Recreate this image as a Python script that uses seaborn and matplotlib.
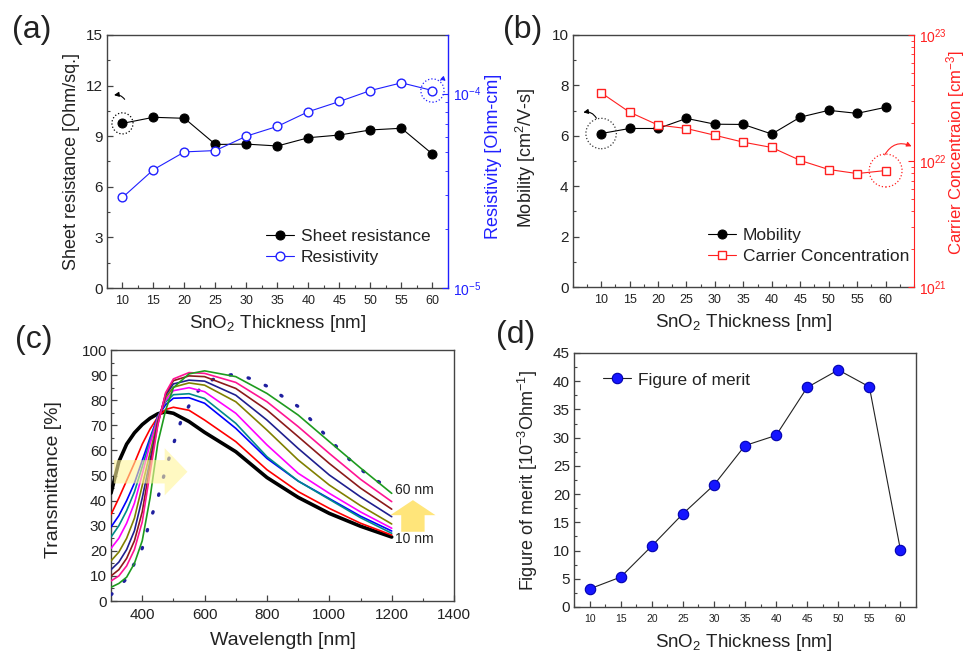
import numpy as np
import pandas as pd
import matplotlib
matplotlib.use("Agg")
import matplotlib.pyplot as plt
import seaborn as sns
from matplotlib.patches import FancyArrow
from matplotlib.ticker import MultipleLocator, LogLocator, NullFormatter

# ---------------- data ----------------
thickness = [10, 15, 20, 25, 30, 35, 40, 45, 50, 55, 60]
sheet_res = [9.76, 10.12, 10.06, 8.51, 8.53, 8.42, 8.91, 9.07, 9.37, 9.47, 7.94]
resistivity = [2.92e-5, 4.06e-5, 5.01e-5, 5.09e-5, 6.04e-5, 6.78e-5, 8.07e-5,
               9.10e-5, 1.036e-4, 1.135e-4, 1.036e-4]
mobility = [6.09, 6.29, 6.29, 6.69, 6.46, 6.45, 6.07, 6.74, 7.01, 6.89, 7.13]
carrier = [3.48e22, 2.44e22, 1.93e22, 1.81e22, 1.60e22, 1.41e22, 1.28e22,
           1.01e22, 8.56e21, 7.95e21, 8.40e21]
fom = [3.2, 5.3, 10.8, 16.5, 21.6, 28.6, 30.4, 38.9, 42.0, 39.0, 10.1]

wavelength = [300, 325, 350, 375, 400, 425, 450, 475, 500, 550, 600, 700, 800, 900, 1000, 1100, 1200]
T_black = [43.0, 55.5, 62.5, 67.0, 70.3, 72.8, 74.6, 75.4, 74.8, 71.5, 67.2, 59.5, 49.2, 41.3, 34.9, 29.8, 25.5]
T_red = [34.5, 41.0, 48.0, 55.0, 62.5, 68.5, 73.3, 76.3, 77.2, 76.0, 72.1, 63.5, 52.3, 43.6, 36.9, 31.0, 26.3]
T_blue = [29.5, 34.0, 40.0, 47.0, 56.0, 65.0, 73.5, 78.2, 80.8, 81.0, 78.8, 68.8, 56.8, 47.8, 40.8, 33.8, 27.9]
T_teal = [25.5, 30.0, 36.0, 43.5, 53.5, 64.0, 73.5, 79.3, 82.2, 82.6, 80.7, 70.8, 57.5, 47.8, 40.5, 33.2, 27.0]
T_magenta = [21.0, 25.0, 31.0, 39.0, 50.5, 62.5, 73.0, 80.0, 83.8, 85.0, 83.4, 74.8, 62.2, 50.9, 42.9, 35.5, 29.0]
T_olive = [16.0, 19.5, 25.0, 33.0, 46.0, 59.0, 72.0, 81.0, 85.2, 86.9, 86.0, 79.4, 68.1, 56.2, 46.2, 38.0, 30.7]
T_navy = [12.5, 15.5, 20.5, 28.0, 41.0, 56.0, 71.0, 82.0, 86.5, 88.0, 87.6, 82.0, 72.1, 60.8, 50.2, 41.5, 33.6]
T_brown = [10.0, 12.5, 17.0, 24.0, 35.5, 54.0, 70.5, 82.5, 87.8, 89.7, 89.4, 84.7, 76.1, 65.5, 54.8, 45.0, 36.6]
T_pink = [8.0, 10.0, 14.0, 20.5, 31.5, 51.0, 70.0, 83.0, 88.5, 91.0, 90.7, 87.1, 79.4, 69.5, 58.8, 48.5, 39.6]
T_green = [5.5, 7.0, 9.5, 15.0, 24.0, 41.0, 63.0, 76.0, 85.0, 90.5, 91.7, 89.4, 82.7, 74.1, 63.5, 53.0, 42.9]

wavelength_dot = [300, 325, 350, 375, 400, 425, 450, 475, 500, 525, 550, 575, 600, 650, 700,
                  750, 800, 850, 900, 950, 1000, 1050, 1100, 1150, 1200]
T_dot = [2.5, 5.5, 9.0, 15.0, 21.0, 32.0, 41.0, 52.5, 62.5, 72.0, 77.8, 83.0, 86.8, 89.5, 90.4,
         88.5, 85.6, 81.5, 77.5, 71.0, 64.5, 58.0, 52.5, 48.0, 45.0]

curve_list = [T_black, T_red, T_blue, T_teal, T_magenta, T_olive, T_navy, T_brown, T_pink, T_green]
curve_colors = ["#000000", "#FF0000", "#0000FF", "#008B8B", "#FF00FF", "#808000",
                "#1F1F8F", "#8B1A1A", "#FF1493", "#1E9B1E"]

# ---------------- style ----------------
sns.set_style("ticks")
plt.rcParams['font.family'] = ['Liberation Sans', 'DejaVu Sans']
plt.rcParams['mathtext.fontset'] = 'custom'
plt.rcParams['mathtext.rm'] = 'Liberation Sans'
plt.rcParams['mathtext.it'] = 'Liberation Sans:italic'
plt.rcParams['mathtext.bf'] = 'Liberation Sans:bold'
TXT = "#222222"
SP = "#444444"
BLUE = "#2020FF"
RED = "#FF2020"

fig = plt.figure(figsize=(9.69, 6.55), dpi=100)
ax_a = fig.add_axes([0.1104, 0.5603, 0.3519, 0.3863])
ax_b = fig.add_axes([0.5910, 0.5618, 0.3523, 0.3848])
ax_c = fig.add_axes([0.1146, 0.0824, 0.3540, 0.3832])
ax_d = fig.add_axes([0.5924, 0.0733, 0.3529, 0.3878])


def style_axes(ax, xfs, yfs):
    for s in ax.spines.values():
        s.set_color(SP)
        s.set_linewidth(1.0)
        s.set_visible(True)
    ax.tick_params(axis='both', which='both', direction='in', colors=SP,
                   top=False, right=False)
    ax.tick_params(axis='both', which='major', length=4.5, width=0.9)
    ax.tick_params(axis='both', which='minor', length=2.5, width=0.8)
    ax.tick_params(axis='x', labelsize=xfs, labelcolor=TXT, pad=5)
    ax.tick_params(axis='y', labelsize=yfs, labelcolor=TXT, pad=3)


xlab = "SnO$_2$ Thickness [nm]"

# ---------------- (a) ----------------
ax_a2 = ax_a.twinx()
ax_a2.set_yscale('log')
sns.lineplot(x=thickness, y=sheet_res, ax=ax_a, color='black', lw=0.8, marker='o',
             markersize=6.5, markerfacecolor='black', markeredgecolor='black',
             label='Sheet resistance')
sns.lineplot(x=thickness, y=resistivity, ax=ax_a2, color=BLUE, lw=0.8, marker='o',
             markersize=6.3, markerfacecolor='white', markeredgecolor=BLUE,
             markeredgewidth=1.0, label='Resistivity')
ax_a.set_xlim(7.5, 62.5)
ax_a.set_ylim(0, 15)
ax_a2.set_ylim(1e-5, 2e-4)
style_axes(ax_a, 9, 11)
ax_a.spines['right'].set_visible(False)
ax_a.xaxis.set_major_locator(MultipleLocator(5))
ax_a.xaxis.set_minor_locator(MultipleLocator(2.5))
ax_a.yaxis.set_major_locator(MultipleLocator(3))
ax_a.yaxis.set_minor_locator(MultipleLocator(1.5))
for k in ['left', 'top', 'bottom']:
    ax_a2.spines[k].set_visible(False)
ax_a2.spines['right'].set_color(BLUE)
ax_a2.spines['right'].set_linewidth(1.0)
ax_a2.tick_params(axis='y', which='both', direction='in', colors=BLUE, labelsize=10)
ax_a2.tick_params(axis='y', which='major', length=4.5)
ax_a2.tick_params(axis='y', which='minor', length=2.5)
ax_a2.yaxis.set_minor_locator(LogLocator(base=10, subs=np.arange(2, 10)))
ax_a2.yaxis.set_minor_formatter(NullFormatter())
ax_a.set_xlabel(xlab, fontsize=13.5, color=TXT)
ax_a.xaxis.set_label_coords(0.5, -0.10)
ax_a.set_ylabel("Sheet resistance [Ohm/sq.]", fontsize=13, color=TXT)
ax_a.yaxis.set_label_coords(-0.079, 0.498)
ax_a2.set_ylabel("Resistivity [Ohm-cm]", fontsize=13, color=BLUE, rotation=90)
ax_a2.yaxis.set_label_coords(1.108, 0.52)
if ax_a.get_legend():
    ax_a.get_legend().remove()
h1, l1 = ax_a.get_legend_handles_labels()
h2, l2 = ax_a2.get_legend_handles_labels()
ax_a2.legend(h1 + h2, l1 + l2, loc='lower right', bbox_to_anchor=(0.995, 0.03),
             frameon=False, fontsize=12.5, handlelength=1.6, handletextpad=0.4,
             labelspacing=0.3, labelcolor=TXT)
# annotations
ax_a.scatter([thickness[0]], [sheet_res[0]], s=230, facecolors='none', edgecolors='black',
             linestyles=':', linewidths=0.9, zorder=5)
ax_a.annotate('', xy=(8.2, 11.4), xytext=(10.6, 11.05),
              arrowprops=dict(arrowstyle='-|>', color='black', lw=0.8, mutation_scale=7,
                              connectionstyle='arc3,rad=0.4'), annotation_clip=False)
ax_a2.scatter([thickness[-1]], [resistivity[-1]], s=280, facecolors='none', edgecolors=BLUE,
              linestyles=':', linewidths=0.9, zorder=5)
ax_a2.annotate('', xy=(62.4, 1.13e-4), xytext=(60.9, 1.15e-4),
               arrowprops=dict(arrowstyle='-|>', color=BLUE, lw=0.8, mutation_scale=6,
                               connectionstyle='arc3,rad=-0.6'), annotation_clip=False)

# ---------------- (b) ----------------
ax_b2 = ax_b.twinx()
ax_b2.set_yscale('log')
sns.lineplot(x=thickness, y=mobility, ax=ax_b, color='black', lw=0.8, marker='o',
             markersize=6.5, markerfacecolor='black', markeredgecolor='black',
             label='Mobility')
sns.lineplot(x=thickness, y=carrier, ax=ax_b2, color=RED, lw=0.8, marker='s',
             markersize=6.0, markerfacecolor='white', markeredgecolor=RED,
             markeredgewidth=1.0, label='Carrier Concentration')
ax_b.set_xlim(5, 65)
ax_b.set_ylim(0, 10)
ax_b2.set_ylim(1e21, 1e23)
style_axes(ax_b, 9, 11)
ax_b.spines['right'].set_visible(False)
ax_b.xaxis.set_major_locator(MultipleLocator(5))
ax_b.xaxis.set_minor_locator(MultipleLocator(2.5))
ax_b.yaxis.set_major_locator(MultipleLocator(2))
ax_b.yaxis.set_minor_locator(MultipleLocator(1))
ax_b.set_xticks(thickness)
for k in ['left', 'top', 'bottom']:
    ax_b2.spines[k].set_visible(False)
ax_b2.spines['right'].set_color(RED)
ax_b2.tick_params(axis='y', which='both', direction='in', colors=RED, labelsize=10)
ax_b2.tick_params(axis='y', which='major', length=4.5)
ax_b2.tick_params(axis='y', which='minor', length=2.5)
ax_b2.yaxis.set_minor_locator(LogLocator(base=10, subs=np.arange(2, 10)))
ax_b2.yaxis.set_minor_formatter(NullFormatter())
ax_b.set_xlabel(xlab, fontsize=13.5, color=TXT)
ax_b.xaxis.set_label_coords(0.5, -0.10)
ax_b.set_ylabel("Mobility [cm$^2$/V-s]", fontsize=13, color=TXT)
ax_b.yaxis.set_label_coords(-0.102, 0.512)
ax_b2.set_ylabel("Carrier Concentraion [cm$^{-3}$]", fontsize=12, color=RED, rotation=90)
ax_b2.yaxis.set_label_coords(1.088, 0.534)
if ax_b.get_legend():
    ax_b.get_legend().remove()
h1, l1 = ax_b.get_legend_handles_labels()
h2, l2 = ax_b2.get_legend_handles_labels()
ax_b2.legend(h1 + h2, l1 + l2, loc='lower left', bbox_to_anchor=(0.35, 0.03),
             frameon=False, fontsize=12.5, handlelength=1.6, handletextpad=0.4,
             labelspacing=0.3, labelcolor=TXT)
ax_b.scatter([thickness[0]], [mobility[0]], s=480, facecolors='none', edgecolors='#333333',
             linestyles=':', linewidths=0.9, zorder=5)
ax_b.annotate('', xy=(6.4, 6.9), xytext=(9.4, 6.6),
              arrowprops=dict(arrowstyle='-|>', color='black', lw=0.8, mutation_scale=7,
                              connectionstyle='arc3,rad=0.45'), annotation_clip=False)
ax_b2.scatter([thickness[-1]], [carrier[-1]], s=560, facecolors='none', edgecolors=RED,
              linestyles=':', linewidths=0.9, zorder=5)
ax_b2.annotate('', xy=(65.0, 1.28e22), xytext=(59.6, 1.07e22),
               arrowprops=dict(arrowstyle='-|>', color=RED, lw=0.8, mutation_scale=7,
                               connectionstyle='arc3,rad=-0.5'), annotation_clip=False)

# ---------------- (c) ----------------
for i, (vals, col) in enumerate(zip(curve_list, curve_colors)):
    sns.lineplot(x=wavelength, y=vals, ax=ax_c, color=col, lw=2.6 if i == 0 else 1.2,
                 zorder=3 + i)
sns.lineplot(x=wavelength_dot, y=T_dot, ax=ax_c, color='#1F1F9F', lw=2.4,
             linestyle=(0, (0.4, 5.2)), dash_capstyle='round', zorder=3)
ax_c.set_xlim(300, 1400)
ax_c.set_ylim(0, 100)
style_axes(ax_c, 11, 11)
ax_c.xaxis.set_major_locator(MultipleLocator(200))
ax_c.xaxis.set_minor_locator(MultipleLocator(100))
ax_c.yaxis.set_major_locator(MultipleLocator(10))
ax_c.yaxis.set_minor_locator(MultipleLocator(5))
ax_c.set_xlabel("Wavelength [nm]", fontsize=14, color=TXT)
ax_c.xaxis.set_label_coords(0.5, -0.125)
ax_c.set_ylabel("Transmittance [%]", fontsize=14, color=TXT)
ax_c.yaxis.set_label_coords(-0.143, 0.482)
ax_c.add_patch(FancyArrow(309, 51.5, 236, 0, width=9.3, head_width=18.8, head_length=73,
                          length_includes_head=True, facecolor='#FFF59A', edgecolor='none',
                          alpha=0.6, zorder=20))
ax_c.add_patch(FancyArrow(1268, 27.6, 0, 12.6, width=75, head_width=145, head_length=6,
                          length_includes_head=True, facecolor='#FFE57A', edgecolor='none',
                          zorder=20))
ax_c.text(1212, 44.2, "60 nm", fontsize=10, color=TXT, va='center', ha='left')
ax_c.text(1210, 24.7, "10 nm", fontsize=10, color=TXT, va='center', ha='left')

# ---------------- (d) ----------------
sns.lineplot(x=thickness, y=fom, ax=ax_d, color='#222222', lw=0.8, marker='o',
             markersize=7.5, markerfacecolor='#1515FF', markeredgecolor='#0000B0',
             markeredgewidth=0.8, label='Figure of merit')
ax_d.set_xlim(7.5, 62.5)
ax_d.set_ylim(0, 45)
style_axes(ax_d, 7.5, 11)
ax_d.xaxis.set_major_locator(MultipleLocator(5))
ax_d.xaxis.set_minor_locator(MultipleLocator(2.5))
ax_d.yaxis.set_major_locator(MultipleLocator(5))
ax_d.yaxis.set_minor_locator(MultipleLocator(2.5))
ax_d.set_xlabel(xlab, fontsize=13.5, color=TXT)
ax_d.xaxis.set_label_coords(0.497, -0.10)
ax_d.set_ylabel("Figure of merit [10$^{-3}$Ohm$^{-1}$]", fontsize=13, color=TXT)
ax_d.yaxis.set_label_coords(-0.099, 0.496)
ax_d.legend(loc='upper left', bbox_to_anchor=(0.04, 0.985), frameon=False, fontsize=12.5,
            handlelength=1.6, handletextpad=0.4, labelcolor=TXT)

# panel letters
for lab, (x, y) in zip(["(a)", "(b)", "(c)", "(d)"],
                       [(0.012, 0.954), (0.519, 0.954), (0.015, 0.481), (0.512, 0.489)]):
    fig.text(x, y, lab, fontsize=23, color=TXT, ha='left', va='center')

fig.savefig("out.png", dpi=100)
